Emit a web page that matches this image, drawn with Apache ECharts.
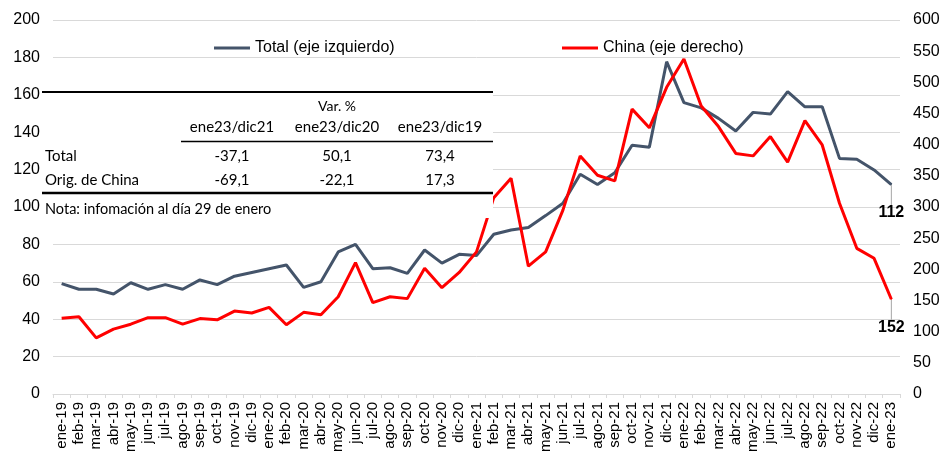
<!DOCTYPE html>
<html>
<head>
<meta charset="utf-8">
<script src="https://cdn.jsdelivr.net/npm/echarts@6/dist/echarts.min.js"></script>
<style>
  html, body { margin: 0; padding: 0; background: #fff; }
  #chart { width: 944px; height: 457px; }
</style>
</head>
<body>
<div id="chart"></div>
<script>
const months = [
  'ene-19', 'feb-19', 'mar-19', 'abr-19', 'may-19', 'jun-19', 'jul-19', 'ago-19', 'sep-19', 'oct-19', 'nov-19', 'dic-19',
  'ene-20', 'feb-20', 'mar-20', 'abr-20', 'may-20', 'jun-20', 'jul-20', 'ago-20', 'sep-20', 'oct-20', 'nov-20', 'dic-20',
  'ene-21', 'feb-21', 'mar-21', 'abr-21', 'may-21', 'jun-21', 'jul-21', 'ago-21', 'sep-21', 'oct-21', 'nov-21', 'dic-21',
  'ene-22', 'feb-22', 'mar-22', 'abr-22', 'may-22', 'jun-22', 'jul-22', 'ago-22', 'sep-22', 'oct-22', 'nov-22', 'dic-22',
  'ene-23'
]
// eje izquierdo
const total = [
  59, 56, 56, 53.5, 59.5, 56, 58.5, 56, 61, 58.5, 63, 65,
  67, 69, 57, 60, 76, 80, 67, 67.5, 64.5, 77, 70, 74.7,
  74, 85.4, 87.7, 89, 95.4, 102, 117.5, 112, 118.3, 133, 132, 177.7,
  155.8, 153, 147.4, 140.6, 150.6, 149.7, 161.7, 153.6, 153.6, 126, 125.5, 119.8,
  112
]
// eje derecho
const china = [
  121.5, 124, 90, 104, 112, 122.5, 122.5, 112, 121, 119, 133, 130,
  139, 111, 131, 127, 156, 210.7, 146.5, 156, 153, 201.6, 170.6, 195,
  228, 315, 346, 205, 228, 295, 382, 351, 342, 457, 427, 492,
  537.5, 462, 429, 386, 382, 413, 372, 438.5, 399.5, 306, 233.7, 217.7,
  152
]
const colHeads = ['ene23/dic21', 'ene23/dic20', 'ene23/dic19']
const rowNames = ['Total', 'Orig. de China']
const rowTotal = ['-37,1', '50,1', '73,4']
const rowChina = ['-69,1', '-22,1', '17,3']

const grayCol = '#44546A'
const redCol = '#FF0000'
const arial = '"Liberation Sans", Arial, sans-serif'
const tblFont = 'Lato, "Noto Sans", sans-serif'

// only the last point gets a marker-less value label
const withEndLabel = (arr) => arr.map((v, i) => i === arr.length - 1
  ? {
      value: v, symbol: 'circle', symbolSize: 1,
      label: { show: true, formatter: String(Math.round(v)) }
    }
  : v)

const colX = [232, 337, 440]
const tableEls = [
  { type: 'rect', z: 100, shape: { x: 40, y: 86, width: 453, height: 132 }, style: { fill: '#fff' } },
  { type: 'line', z: 101, shape: { x1: 42, y1: 92, x2: 493, y2: 92 }, style: { stroke: '#000', lineWidth: 2 } },
  { type: 'line', z: 101, shape: { x1: 181, y1: 141.5, x2: 493, y2: 141.5 }, style: { stroke: '#000', lineWidth: 1.5 } },
  { type: 'line', z: 101, shape: { x1: 42, y1: 193, x2: 493, y2: 193 }, style: { stroke: '#000', lineWidth: 2.5 } },
  { type: 'text', z: 101, x: 337, y: 106, style: { text: 'Var. %', font: '14px ' + tblFont, fill: '#000', align: 'center', verticalAlign: 'middle' } },
  { type: 'text', z: 101, x: 45, y: 156, style: { text: rowNames[0], font: '15px ' + tblFont, fill: '#000', verticalAlign: 'middle' } },
  { type: 'text', z: 101, x: 45, y: 180, style: { text: rowNames[1], font: '15px ' + tblFont, fill: '#000', verticalAlign: 'middle' } },
  { type: 'text', z: 101, x: 45, y: 209, style: { text: 'Nota: infomación al día 29 de enero', font: '14.5px ' + tblFont, fill: '#000', verticalAlign: 'middle' } }
]
colHeads.forEach((h, i) => {
  tableEls.push({ type: 'text', z: 101, x: colX[i], y: 127.5, style: { text: h, font: '15px ' + tblFont, fill: '#000', align: 'center', verticalAlign: 'middle' } })
  tableEls.push({ type: 'text', z: 101, x: colX[i], y: 156, style: { text: rowTotal[i], font: '15px ' + tblFont, fill: '#000', align: 'center', verticalAlign: 'middle' } })
  tableEls.push({ type: 'text', z: 101, x: colX[i], y: 180, style: { text: rowChina[i], font: '15px ' + tblFont, fill: '#000', align: 'center', verticalAlign: 'middle' } })
})

const chart = echarts.init(document.getElementById('chart'))
const axisFont = { fontFamily: arial, color: '#000' }
const endLabel = { position: 'bottom', distance: 6, color: '#000', fontWeight: 'bold', fontSize: 16, fontFamily: arial }
const option = {
  animation: false,
  textStyle: { fontFamily: arial },
  grid: { left: 53, right: 44, top: 20, bottom: 63 },
  legend: [
    {
      data: ['Total (eje izquierdo)'], left: 209, top: 35,
      icon: 'rect', itemWidth: 36, itemHeight: 3,
      textStyle: { ...axisFont, fontSize: 16 }
    },
    {
      data: ['China (eje derecho)'], left: 557, top: 35,
      icon: 'rect', itemWidth: 36, itemHeight: 3,
      textStyle: { ...axisFont, fontSize: 16 }
    }
  ],
  xAxis: {
    type: 'category',
    data: months,
    boundaryGap: true,
    axisLine: { lineStyle: { color: '#d9d9d9' } },
    axisTick: { show: true, length: 4, lineStyle: { color: '#d9d9d9' } },
    axisLabel: { ...axisFont, fontSize: 15, rotate: 90, interval: 0, margin: 8 }
  },
  yAxis: [
    {
      type: 'value', min: 0, max: 200, interval: 20,
      axisLine: { show: false }, axisTick: { show: false },
      axisLabel: { ...axisFont, fontSize: 16, margin: 13 },
      splitLine: { lineStyle: { color: '#d9d9d9', width: 1 } }
    },
    {
      type: 'value', min: 0, max: 600, interval: 50,
      axisLine: { show: false }, axisTick: { show: false },
      axisLabel: { ...axisFont, fontSize: 16, margin: 13 },
      splitLine: { show: false }
    }
  ],
  series: [
    {
      name: 'Total (eje izquierdo)', type: 'line', yAxisIndex: 0,
      data: withEndLabel(total),
      symbol: 'none', color: grayCol,
      lineStyle: { width: 3, color: grayCol },
      label: endLabel,
      labelLayout: { dy: 14 },
      labelLine: { show: true, lineStyle: { color: '#a6a6a6', width: 1 } }
    },
    {
      name: 'China (eje derecho)', type: 'line', yAxisIndex: 1,
      data: withEndLabel(china),
      symbol: 'none', color: redCol,
      lineStyle: { width: 3, color: redCol },
      label: endLabel,
      labelLayout: { dy: 14 },
      labelLine: { show: true, lineStyle: { color: '#a6a6a6', width: 1 } }
    }
  ],
  graphic: [{ type: 'group', children: tableEls }]
}
chart.setOption(option)
</script>
</body>
</html>
